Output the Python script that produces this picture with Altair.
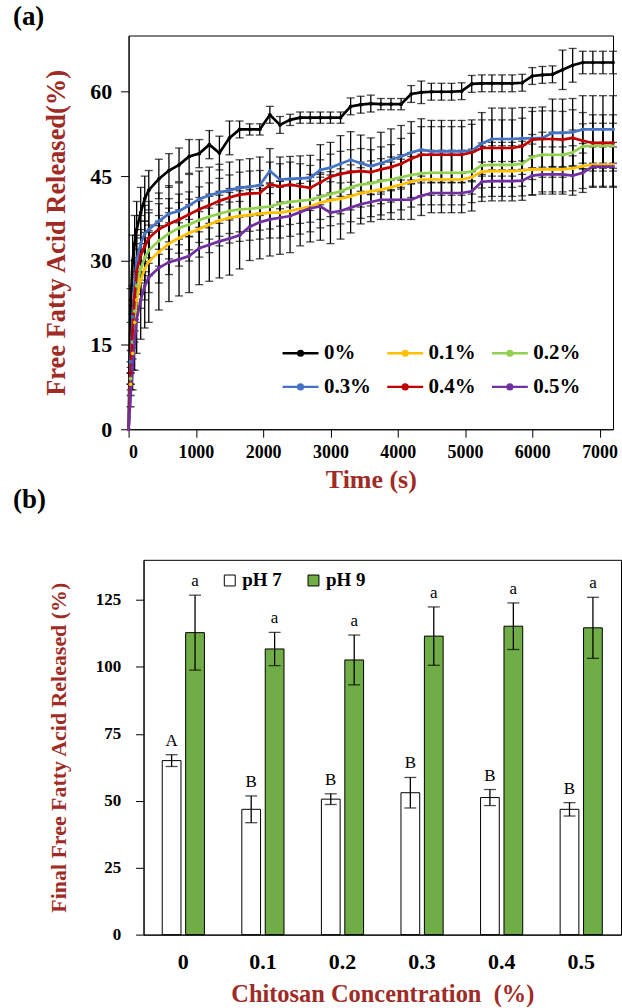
import altair as alt
import pandas as pd

# ---------------- Panel (a): FFA release over time ----------------
TIME_S = [0, 30, 60, 90, 120, 180, 240, 300,
          450, 600, 750, 900, 1050, 1200, 1350, 1500, 1650, 1800,
          1950, 2100, 2250, 2400, 2550, 2700, 2850, 3000, 3150, 3300,
          3450, 3600, 3750, 3900, 4050, 4200, 4350, 4500, 4650, 4800,
          4950, 5100, 5250, 5400, 5550, 5700, 5850, 6000, 6150, 6300,
          6450, 6600, 6750, 6900, 7050, 7200]

FFA_00 = [0, 22, 30, 33, 35.5, 38.5, 41, 42.5,
          44.5, 46, 47, 48.5, 49, 50.6, 49.1, 51.8, 53.3, 53.3,
          53.3, 55.9, 54.1, 55, 55.4, 55.4, 55.4, 55.4, 55.4, 57.4,
          57.7, 57.9, 57.8, 57.8, 57.8, 59.6, 59.9, 60, 60, 60,
          60.1, 61.4, 61.5, 61.5, 61.5, 61.5, 61.6, 62.8, 63, 63.1,
          63.9, 64.7, 65.2, 65.2, 65.2, 65.2]
ERR_00 = [0, 3, 4.5, 5, 5, 4.5, 4, 3.5,
          3.5, 3, 3, 3, 2.5, 2.5, 3, 3, 1.5, 1,
          1, 1.5, 1.5, 1, 1, 1, 1, 1, 1, 1.5,
          1.5, 1.5, 1, 1, 1, 1.5, 2, 1.5, 1.5, 1.5,
          1.5, 1.5, 1.5, 1.5, 1.5, 1.5, 1.5, 1.5, 1.5, 1.5,
          3.5, 3, 2, 2, 2, 2]

FFA_01 = [0, 8, 13.5, 19, 23, 26.5, 28.5, 29.8,
          31.5, 33, 34, 34.9, 35.6, 36.4, 37.1, 37.6, 37.9, 38.1,
          38.3, 38.5, 38.5, 38.8, 39.2, 39.6, 40.3, 40.7, 41, 41.4,
          42, 42.3, 42.6, 43, 43.5, 44, 44.4, 44.4, 44.4, 44.4,
          44.4, 44.8, 45.8, 45.9, 45.9, 45.9, 46, 46.2, 46.2, 46.2,
          46.2, 46.4, 46.8, 47, 47, 47]
ERR_01 = [0, 2, 3, 3.5, 4, 5, 5.5, 5.5,
          5.5, 5.5, 5, 5, 5, 5, 4.5, 4.5, 4.5, 4.5,
          4.5, 4.5, 4.5, 4.5, 4.5, 4.5, 4.5, 4.5, 4.5, 4.5,
          4.5, 4.5, 4.5, 4.5, 4.5, 4.5, 4.5, 4.5, 4.5, 4.5,
          4.5, 4.5, 4.5, 4.5, 4.5, 4.5, 4.5, 4.5, 4, 4,
          4, 4, 4, 4, 4, 4]

FFA_02 = [0, 9, 15.5, 21, 25.5, 28.5, 30.5, 31.8,
          33.5, 34.8, 35.8, 36.4, 37.2, 37.8, 38.3, 38.8, 39.1, 39.2,
          39.4, 39.6, 40.1, 40.4, 40.6, 40.8, 41.3, 41.8, 42.3, 43,
          43.5, 43.7, 44.1, 44.4, 44.8, 45.2, 45.5, 45.6, 45.6, 45.6,
          45.6, 45.8, 46.9, 47, 47, 47, 47.2, 48.4, 48.8, 48.8,
          48.8, 49.2, 50.3, 50.4, 50.4, 50.4]
ERR_02 = [0, 2, 3, 3.5, 4, 4.5, 4.5, 4.5,
          4.5, 4.5, 4.5, 4.5, 4, 4, 4, 4, 4, 4,
          4, 4, 4, 4, 4, 4, 4, 4, 4, 4,
          4, 4, 4, 4, 4, 4, 4, 4, 4, 4,
          4, 4, 4, 4, 4, 4, 4, 4, 4, 4,
          4, 4, 4, 4, 4, 4]

FFA_03 = [0, 12, 20, 26, 30, 33, 34.8, 35.5,
          37, 38.3, 38.8, 39.8, 40.9, 41.6, 42.1, 42.5, 42.9, 43.1,
          43.4, 45.9, 44.4, 44.5, 44.6, 44.7, 46.1, 46.5, 47.2, 47.9,
          47.3, 46.8, 47.3, 47.9, 48.5, 49.2, 49.7, 49.4, 49.4, 49.4,
          49.4, 49.5, 50.8, 51.6, 51.6, 51.6, 51.7, 51.7, 51.8, 52.7,
          52.7, 52.8, 53.3, 53.3, 53.3, 53.3]
ERR_03 = [0, 2, 3, 4, 4.5, 5, 5, 5,
          5, 5, 5, 5.5, 5, 5, 5, 5, 5, 5,
          5, 4, 4, 4, 4, 4, 4.5, 4.5, 5, 5,
          5, 5, 5.5, 5.5, 5.5, 5.5, 5.5, 5.5, 5.5, 5.5,
          5.5, 5.5, 5.5, 5.5, 5.5, 5.5, 5.5, 5.5, 5.5, 6,
          6, 6, 6, 6, 6, 6]

FFA_04 = [0, 10, 17.5, 23.5, 28, 31, 32.5, 34,
          35.6, 36.5, 37.3, 38.2, 39.1, 39.8, 40.6, 41.2, 41.7, 41.9,
          42, 43.5, 43.2, 43.5, 43.2, 42.9, 43.9, 44.9, 45.4, 45.7,
          45.9, 45.7, 46.2, 46.6, 47.2, 48.1, 48.8, 48.8, 48.8, 48.8,
          48.8, 49.2, 50, 50, 50, 50, 50.3, 51.5, 51.6, 51.6,
          51.5, 51.8, 51.3, 50.9, 50.9, 50.9]
ERR_04 = [0, 2, 3, 4, 4, 4.5, 4.5, 4.5,
          4.5, 4.5, 4.5, 4, 4, 4, 4, 4, 4, 4,
          4, 4, 4, 4, 4, 4, 4, 4, 4, 4,
          4, 4, 4, 4, 4.5, 4.5, 5, 5, 5, 5,
          5, 5, 5, 5, 5, 5, 5, 5, 5, 5,
          5, 5, 5, 5, 5, 5]

FFA_05 = [0, 6, 11, 15.5, 19.5, 23, 25.5, 27,
          28.7, 29.7, 30.2, 30.8, 32.2, 32.8, 33.4, 33.9, 34.5, 36,
          36.8, 37.3, 37.6, 37.9, 38.6, 39.3, 39.6, 38.5, 38.8, 39.4,
          40, 40.4, 40.8, 40.8, 40.8, 40.8, 41.5, 42, 42, 42,
          42, 42.3, 44, 44.1, 44.1, 44.1, 44.2, 45.1, 45.3, 45.3,
          45.3, 45.1, 45.6, 46.7, 46.7, 46.7]
ERR_05 = [0, 2, 4, 5, 6, 7, 7.5, 8,
          7.5, 7, 6.5, 6.5, 6.5, 6.5, 6.5, 6.5, 6, 6,
          6.5, 6.5, 6.5, 6.5, 6, 6, 6, 5.5, 5, 4.5,
          3.5, 3.5, 3.5, 3.5, 3.5, 3.5, 3.5, 3.5, 3.5, 3.5,
          3.5, 3.5, 3.5, 3.5, 3.5, 3.5, 3.5, 3.5, 3.5, 3.5,
          3.5, 3.5, 3.5, 3.5, 3.5, 3.5]

SERIES = ["0%", "0.1%", "0.2%", "0.3%", "0.4%", "0.5%"]
SERIES_COLORS = ["#000000", "#FFC000", "#92D050", "#4472C4", "#C00000", "#7030A0"]
TIME_TICKS = [0, 1000, 2000, 3000, 4000, 5000, 6000, 7000]
FFA_TICKS = [0, 15, 30, 45, 60]

# ---------------- Panel (b): final FFA ----------------
CHITOSAN = ["0", "0.1", "0.2", "0.3", "0.4", "0.5"]
PH_GROUPS = ["pH 7", "pH 9"]
PH7_VAL = [65.0, 46.8, 50.6, 53.0, 51.2, 46.8]
PH7_ERR = [2.2, 5.0, 2.0, 5.7, 3.0, 2.5]
PH9_VAL = [112.8, 106.7, 102.6, 111.5, 115.2, 114.6]
PH9_ERR = [14.0, 6.2, 9.3, 10.9, 8.7, 11.4]
PH7_LETTER = ["A", "B", "B", "B", "B", "B"]
PH9_LETTER = ["a", "a", "a", "a", "a", "a"]
FINAL_TICKS = [0, 25, 50, 75, 100, 125]
BAR_COLORS = ["#FFFFFF", "#70AD47"]

SERIF = "Liberation Serif"
TITLE_RED = "#9E2B25"

# ----- build tables -----
rows = []
for name, vals, errs in zip(SERIES,
                            [FFA_00, FFA_01, FFA_02, FFA_03, FFA_04, FFA_05],
                            [ERR_00, ERR_01, ERR_02, ERR_03, ERR_04, ERR_05]):
    for t, v, e in zip(TIME_S, vals, errs):
        rows.append({"time": t, "conc": name, "ffa": v, "err": e,
                     "lo": v - e, "hi": v + e})
df_a = pd.DataFrame(rows)
df_err = df_a[df_a["err"] > 0]

rows_b = []
for i, c in enumerate(CHITOSAN):
    rows_b.append({"conc": c, "ph": "pH 7", "val": PH7_VAL[i],
                   "lo": PH7_VAL[i] - PH7_ERR[i], "hi": PH7_VAL[i] + PH7_ERR[i],
                   "letter": PH7_LETTER[i]})
    rows_b.append({"conc": c, "ph": "pH 9", "val": PH9_VAL[i],
                   "lo": PH9_VAL[i] - PH9_ERR[i], "hi": PH9_VAL[i] + PH9_ERR[i],
                   "letter": PH9_LETTER[i]})
df_b = pd.DataFrame(rows_b)

AX = dict(labelFont=SERIF, titleFont=SERIF, labelFontWeight="bold",
          titleFontWeight="bold", labelColor="black", titleColor=TITLE_RED,
          domainColor="black", tickColor="black", grid=False)

# ----- panel (a) -----
xa = alt.X("time:Q", scale=alt.Scale(domain=[0, 7200], nice=False),
           axis=alt.Axis(values=TIME_TICKS, format="d", title="Time (s)",
                         labelFontSize=18, titleFontSize=26,
                         tickSize=8, labelPadding=6, titlePadding=5, **AX))
ya_scale = alt.Scale(domain=[0, 70], nice=False)
ya_axis = alt.Axis(values=FFA_TICKS, title="Free Fatty Acid Released(%)",
                   labelFontSize=22, titleFontSize=26.5,
                   tickSize=8, labelPadding=9, titlePadding=19, **AX)

rules_a = alt.Chart(df_err).mark_rule(color="black", strokeWidth=1.3).encode(
    x=xa, y=alt.Y("lo:Q", scale=ya_scale, axis=ya_axis), y2="hi:Q")
cap_hi_a = alt.Chart(df_err).mark_tick(orient="horizontal", color="black", size=8,
                                       thickness=1.3).encode(x="time:Q", y="hi:Q")
cap_lo_a = alt.Chart(df_err).mark_tick(orient="horizontal", color="black", size=8,
                                       thickness=1.3).encode(x="time:Q", y="lo:Q")
lines_a = alt.Chart(df_a).mark_line(
    strokeWidth=2.7, point=alt.OverlayMarkDef(filled=True, size=14)
).encode(
    x="time:Q", y="ffa:Q", order="time:Q",
    color=alt.Color("conc:N", sort=SERIES,
                    scale=alt.Scale(domain=SERIES, range=SERIES_COLORS),
                    legend=alt.Legend(
                        title=None, orient="none", legendX=153, legendY=299,
                        columns=3, direction="horizontal", columnPadding=10,
                        rowPadding=4,
                        symbolType="M-1,0L1,0M0.13,0A0.13,0.13,0,1,1,-0.13,0A0.13,0.13,0,1,1,0.13,0Z",
                        symbolSize=1300, symbolStrokeWidth=2.5,
                        labelFont=SERIF, labelFontSize=21, labelFontWeight="bold",
                        labelColor="black", labelOffset=4)))

panel_a = alt.layer(rules_a, cap_hi_a, cap_lo_a, lines_a).properties(
    width=486, height=395,
    title=alt.TitleParams("(a)", anchor="start", frame="group", dx=-116,
                          fontSize=27, font=SERIF, fontWeight="bold", offset=5,
                          color="black"))

# ----- panel (b) -----
xb = alt.X("conc:N", sort=CHITOSAN,
           scale=alt.Scale(paddingInner=0.47, paddingOuter=0.235),
           axis=alt.Axis(title="Chitosan Concentration \u00a0(%)", labelAngle=0,
                         labelFontSize=22, ticks=False, labelPadding=17,
                         titleFontSize=24.5, titlePadding=10, **AX))
xo = alt.XOffset("ph:N", sort=PH_GROUPS, scale=alt.Scale(paddingInner=0.2))
yb_scale = alt.Scale(domain=[0, 140], nice=False)
yb_axis = alt.Axis(values=FINAL_TICKS, title="Final Free Fatty Acid Released (%)",
                   labelFontSize=17, titleFontSize=22,
                   tickSize=8, labelPadding=15, titlePadding=25, **AX)

bars_b = alt.Chart(df_b).mark_bar(stroke="black", strokeWidth=1).encode(
    x=xb, xOffset=xo,
    y=alt.Y("val:Q", scale=yb_scale, axis=yb_axis),
    fill=alt.Fill("ph:N", sort=PH_GROUPS,
                  scale=alt.Scale(domain=PH_GROUPS, range=BAR_COLORS),
                  legend=alt.Legend(title=None, orient="none", legendX=77, legendY=11,
                                    direction="horizontal", symbolType="square",
                                    symbolSize=120, symbolStrokeColor="black",
                                    symbolStrokeWidth=1, columnPadding=22,
                                    labelFont=SERIF, labelFontSize=19,
                                    labelFontWeight="bold", labelColor="black",
                                    labelOffset=3)))
rules_b = alt.Chart(df_b).mark_rule(color="black", strokeWidth=1.3).encode(
    x=xb, xOffset=xo, y="lo:Q", y2="hi:Q")
cap_hi_b = alt.Chart(df_b).mark_tick(orient="horizontal", color="black", size=12,
                                     thickness=1.3).encode(x=xb, xOffset=xo, y="hi:Q")
cap_lo_b = alt.Chart(df_b).mark_tick(orient="horizontal", color="black", size=12,
                                     thickness=1.3).encode(x=xb, xOffset=xo, y="lo:Q")
letters_b = alt.Chart(df_b).mark_text(font=SERIF, fontSize=17,
                                      baseline="bottom", dy=-5, color="black").encode(
    x=xb, xOffset=xo, y="hi:Q", text="letter:N")

panel_b = alt.layer(bars_b, rules_b, cap_hi_b, cap_lo_b, letters_b).properties(
    width=479, height=376,
    title=alt.TitleParams("(b)", anchor="start", frame="group", dx=-131,
                          fontSize=27, font=SERIF, fontWeight="bold", offset=46,
                          color="black"))


def spacer():
    return alt.Chart(pd.DataFrame({"s": [0]})).mark_point(opacity=0, size=0).encode(
        x=alt.value(0), y=alt.value(0)
    ).properties(width=1, height=1,
                 view=alt.ViewBackground(stroke="transparent"))


row_a = alt.hconcat(spacer(), panel_a, spacing=0).resolve_legend(color="independent")
row_b = alt.hconcat(spacer(), panel_b, spacing=0).resolve_legend(fill="independent")

chart = alt.vconcat(row_a, row_b, spacing=-8).resolve_legend(
    color="independent", fill="independent"
).properties(
    padding={"left": 9, "top": 0, "right": 0, "bottom": 0},
    background="white"
).configure_view(
    stroke="black", strokeWidth=1
).configure_axis(
    labelFont=SERIF, titleFont=SERIF, labelFontWeight="bold", titleFontWeight="bold",
    labelColor="black", domainColor="black", tickColor="black", grid=False
)

chart.save("out.html", embed_options={"renderer": "svg", "actions": False})
